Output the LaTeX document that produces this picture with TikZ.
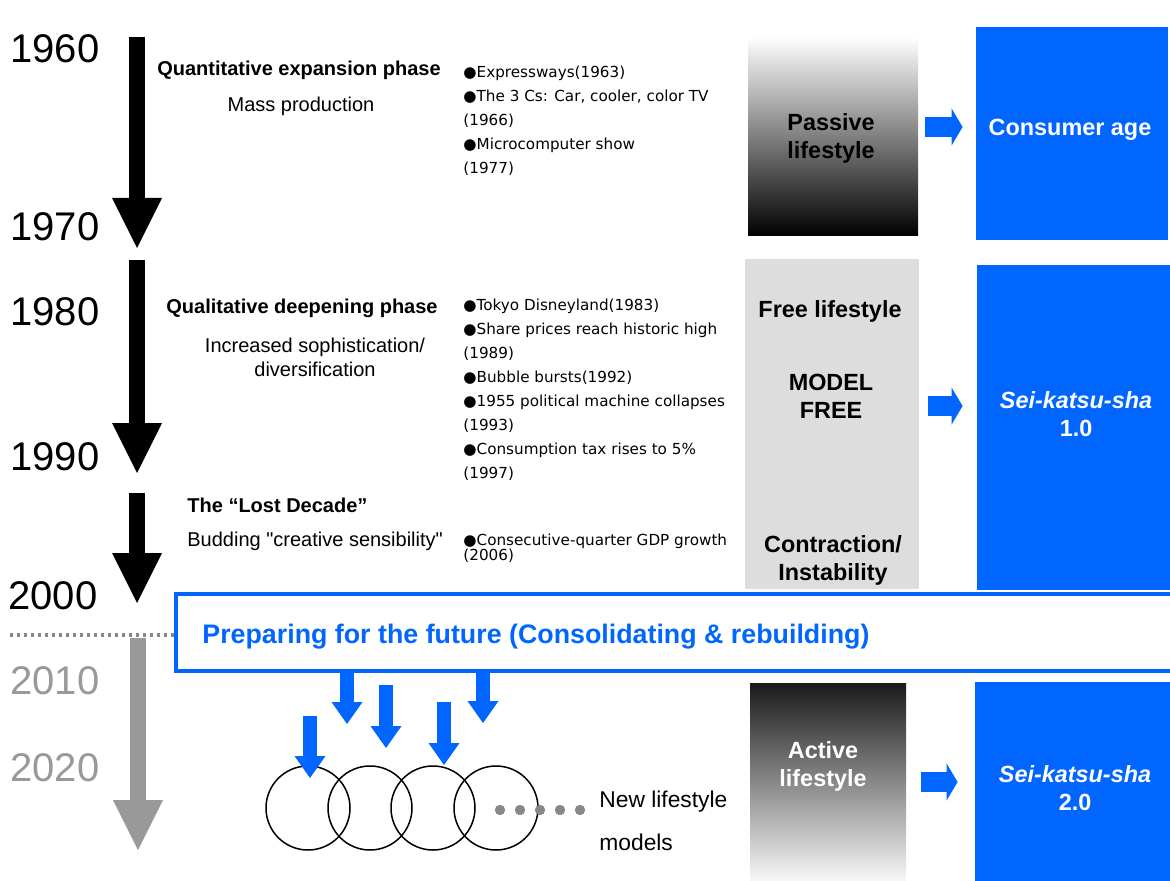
\documentclass[tikz,border=0pt]{standalone}
\usepackage{fontspec}
\setmainfont{Liberation Sans}[Ligatures=TeXOff]
\newfontfamily\evfont{DejaVu Sans}
\usetikzlibrary{arrows.meta,calc}
\definecolor{hblue}{HTML}{0066FF}
\definecolor{yeargray}{HTML}{999999}
\definecolor{boxgray}{HTML}{DDDDDD}
\definecolor{dotgray}{HTML}{888888}
\tikzset{
  year/.style={anchor=west, inner sep=0pt, font=\fontsize{20}{24}\selectfont},
  oldyear/.style={year, text=yeargray},
  phase/.style={inner sep=0pt, font=\fontsize{10}{12}\selectfont\bfseries},
  theme/.style={inner sep=0pt, align=center, font=\fontsize{10}{12}\selectfont},
  events/.style={anchor=north west, inner sep=0pt, align=left,
    font=\evfont\fontsize{7.6}{12}\selectfont},
  life/.style={inner sep=0pt, align=center, font=\fontsize{11.7}{14}\selectfont\bfseries},
  lifebox/.style={life, rectangle, minimum width=#1},
  agebox/.style={rectangle, fill=hblue, inner sep=0pt},
  agetext/.style={life, text=white},
  timearrow/.style={line width=8pt, -{Triangle[width=25pt,length=25pt,line width=0pt]}},
  nextarrow/.style={hblue, line width=10pt, -{Triangle[width=18.5pt,length=5.5pt,line width=0pt]}},
  feedarrow/.style={hblue, line width=7pt, -{Triangle[width=15.5pt,length=11pt,line width=0pt]}},
  model/.style={circle, draw, line width=0.75pt, minimum size=42pt, inner sep=0pt},
}
\newcommand{\blt}{●}

\begin{document}
\begin{tikzpicture}[x=0.5pt, y=-0.5pt]
  \useasboundingbox (0,0) rectangle (1170,881);
  % decades
  \node[year] (y1960) at (10,49) {1960};
  \node[year] (y1970) at (10,227) {1970};
  \node[year] (y1980) at (10,312) {1980};
  \node[year] (y1990) at (10,457) {1990};
  \node[year] (y2000) at (8,596) {2000};
  \node[oldyear] (y2010) at (10,681) {2010};
  \node[oldyear] (y2020) at (10,768) {2020};
  % time arrows
  \coordinate (s1) at (137,37);  \coordinate (e1) at (137,248);
  \coordinate (s2) at (137,260); \coordinate (e2) at (137,473);
  \coordinate (s3) at (137,493); \coordinate (e3) at (137,603);
  \coordinate (s4) at (138,638); \coordinate (e4) at (138,850);
  \draw[timearrow] (s1) -- (e1);
  \draw[timearrow] (s2) -- (e2);
  \draw[timearrow] (s3) -- (e3);
  \draw[timearrow, yeargray] (s4) -- (e4);
  \coordinate (d0) at (10,635); \coordinate (d1) at (175,635);
  \draw[dotgray, line width=1.6pt, dash pattern=on 1.6pt off 1.9pt] (d0) -- (d1);
  % phases
  \node[phase] (quant) at (299,70) {Quantitative expansion phase};
  \node[theme] (mass) at (301,106) {Mass production};
  \node[phase] (qual) at (302,308) {Qualitative deepening phase};
  \node[theme] (sophis) at (315,357) {Increased sophistication/\\diversification};
  \node[phase, anchor=west] (lost) at (187,505) {The “Lost Decade”};
  \node[theme, anchor=west] (budding) at (187,541) {Budding "creative sensibility"};
  % events
  \node[events] (ev60) at (463,66) {\blt Expressways(1963)\\
    \blt The 3 Cs: Car, cooler, color TV\\(1966)\\
    \blt Microcomputer show\\(1977)};
  \node[events] (ev80) at (463,299) {\blt Tokyo Disneyland(1983)\\
    \blt Share prices reach historic high\\(1989)\\
    \blt Bubble bursts(1992)\\
    \blt 1955 political machine collapses\\(1993)\\
    \blt Consumption tax rises to 5\%\\(1997)};
  \node[events, font=\evfont\fontsize{7.6}{7.5}\selectfont] (ev00) at (463,534)
    {\blt Consecutive-quarter GDP growth\\(2006)};
  % lifestyles
  \node[lifebox=85pt, minimum height=99.5pt, top color=white, bottom color=black]
    (passive) at (833,136.5) {};
  \node[life] (passivet) at (831,138) {Passive\\lifestyle};
  \node[lifebox=87pt, minimum height=165pt, fill=boxgray] (free) at (832,424) {};
  \node[life] (freet) at (830,311) {Free lifestyle};
  \node[life] (modelfree) at (831,396) {MODEL\\FREE};
  \node[life] (contr) at (833,560) {Contraction/\\Instability};
  \node[lifebox=78pt, minimum height=99pt, top color=black!90, bottom color=white!97!black]
    (active) at (828,782) {};
  \node[life, text=white] (activet) at (823,766) {Active\\lifestyle};
  % ages
  \node[agebox, minimum width=96pt, minimum height=106.5pt] (consumer) at (1072,133.5) {};
  \node[agetext] (consumert) at (1070,130) {Consumer age};
  \node[agebox, minimum width=96.5pt, minimum height=162.5pt] (sei1) at (1073.5,427.5) {};
  \node[agetext] (sei1t) at (1076,414) {\textit{Sei-katsu-sha}\\1.0};
  \node[agebox, minimum width=97.5pt, minimum height=99.5pt] (sei2) at (1072.5,781.5) {};
  \node[agetext] (sei2t) at (1075,788) {\textit{Sei-katsu-sha}\\2.0};
  \draw[nextarrow, shorten <=3.5pt, shorten >=6.5pt] (passive.east |- 0,127) -- (consumer.west |- 0,127);
  \draw[nextarrow, shorten <=4.5pt, shorten >=7pt] (free.east |- 0,406) -- (sei1.west |- 0,406);
  \draw[nextarrow, shorten <=7.5pt, shorten >=8.5pt] (active.east |- 0,782) -- (sei2.west |- 0,782);
  % preparing for the future
  \node[draw=hblue, line width=2.2pt, minimum width=504.5pt, minimum height=38.5pt,
    inner sep=0pt] (future) at (680.5,632.5) {};
  \node[anchor=west, inner sep=0pt, text=hblue, font=\fontsize{13.4}{16}\selectfont\bfseries]
    (futuret) at (202,637) {Preparing for the future (Consolidating \& rebuilding)};
  % new lifestyle models
  \node[model] (m1) at (308,808) {};
  \node[model] (m2) at (370,808) {};
  \node[model] (m3) at (433,808) {};
  \node[model] (m4) at (496,808) {};
  \fill[dotgray] (500,810) circle (2.6pt) (520,810) circle (2.6pt) (540,810) circle (2.6pt)
    (560,810) circle (2.6pt) (580,810) circle (2.6pt);
  \node[theme, align=left, anchor=west, font=\fontsize{11.4}{21.5}\selectfont]
    (newmodels) at (599,821) {New lifestyle\\models};
  \coordinate (f1) at (310,716); \coordinate (g1) at (310,778);
  \coordinate (f2) at (347,673); \coordinate (g2) at (347,724);
  \coordinate (f3) at (386,685); \coordinate (g3) at (386,748);
  \coordinate (f4) at (444,702); \coordinate (g4) at (444,765);
  \coordinate (f5) at (483,673); \coordinate (g5) at (483,723);
  \draw[feedarrow] (f1) -- (g1);
  \draw[feedarrow] (f2) -- (g2);
  \draw[feedarrow] (f3) -- (g3);
  \draw[feedarrow] (f4) -- (g4);
  \draw[feedarrow] (f5) -- (g5);
\end{tikzpicture}
\end{document}
